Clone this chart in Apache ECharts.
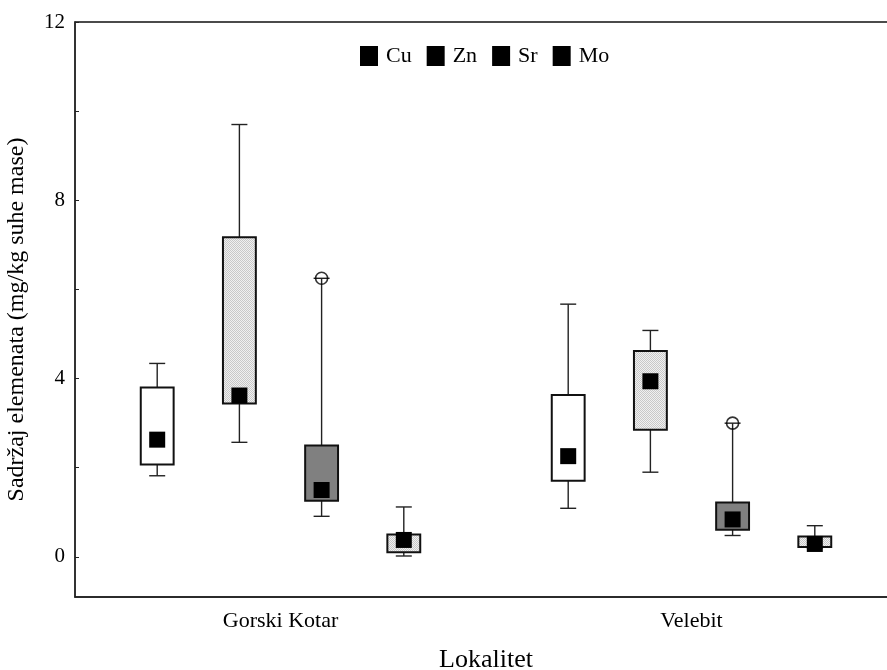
<!DOCTYPE html>
<html>
<head>
<meta charset="utf-8">
<script src="https://cdn.jsdelivr.net/npm/echarts@6/dist/echarts.min.js"></script>
<style>
  html, body { margin: 0; padding: 0; background: #fff; }
  #chart { width: 887px; height: 670px; }
</style>
</head>
<body>
<div id="chart"></div>
<script>
// lokaliteti i elementi
var categories = ['Gorski Kotar', 'Velebit'];
var elements = ['Cu', 'Zn', 'Sr', 'Mo'];

// [min, Q1, median, Q3, max] po lokalitetu
var cuStats = [[1.82, 2.07, 2.63, 3.80, 4.34], [1.09, 1.71, 2.26, 3.63, 5.67]];
var znStats = [[2.57, 3.44, 3.62, 7.17, 9.70], [1.90, 2.85, 3.94, 4.62, 5.08]];
var srStats = [[0.91, 1.26, 1.50, 2.50, 6.25], [0.48, 0.61, 0.84, 1.22, 3.00]];
var moStats = [[0.02, 0.105, 0.38, 0.50, 1.12], [0.20, 0.22, 0.29, 0.46, 0.70]];

// outlieri (samo Sr)
var srOutliers = [6.25, 3.00];

// oznake na y osi
var yLabels = [0, 4, 8, 12];

var allStats = [cuStats, znStats, srStats, moStats];

// sitni tockasti uzorak za svijetlo sive kutije
function makePattern() {
  var c = document.createElement('canvas');
  c.width = 2; c.height = 2;
  var ctx = c.getContext('2d');
  ctx.fillStyle = '#f0f0f0';
  ctx.fillRect(0, 0, 2, 2);
  ctx.fillStyle = '#c8c8c8';
  ctx.fillRect(0, 0, 1, 1);
  ctx.fillRect(1, 1, 1, 1);
  return { image: c, repeat: 'repeat' };
}
var dotted = makePattern();
var fills = ['#ffffff', dotted, '#808080', dotted];

// pozicija kutije na skrivenoj osi: svaka grupa ima 4 mjesta + razmak
function slot(loc, el) {
  return loc * 5 + el + 1;
}

function renderBox(params, api) {
  var x = api.value(0);
  var w = api.size([1, 0])[0] * 0.4;
  var cap = 16;
  var sq = 16;
  var pMin = api.coord([x, api.value(1)]);
  var pQ1 = api.coord([x, api.value(2)]);
  var pMed = api.coord([x, api.value(3)]);
  var pQ3 = api.coord([x, api.value(4)]);
  var pMax = api.coord([x, api.value(5)]);
  var cx = pMin[0];
  var line = { stroke: '#222', lineWidth: 1.4 };
  return {
    type: 'group',
    children: [
      { type: 'line', shape: { x1: cx, y1: pMin[1], x2: cx, y2: pQ1[1] }, style: line },
      { type: 'line', shape: { x1: cx, y1: pQ3[1], x2: cx, y2: pMax[1] }, style: line },
      { type: 'line', shape: { x1: cx - cap / 2, y1: pMin[1], x2: cx + cap / 2, y2: pMin[1] }, style: line },
      { type: 'line', shape: { x1: cx - cap / 2, y1: pMax[1], x2: cx + cap / 2, y2: pMax[1] }, style: line },
      {
        type: 'rect',
        shape: { x: cx - w / 2, y: pQ3[1], width: w, height: pQ1[1] - pQ3[1] },
        style: { fill: fills[params.seriesIndex], stroke: '#111', lineWidth: 2 }
      },
      {
        type: 'rect',
        shape: { x: cx - sq / 2, y: pMed[1] - sq / 2, width: sq, height: sq },
        style: { fill: '#000' }
      }
    ]
  };
}

var font = 'Liberation Serif';

var series = elements.map(function (name, ei) {
  return {
    name: name,
    type: 'custom',
    xAxisIndex: 1,
    yAxisIndex: 0,
    renderItem: renderBox,
    itemStyle: { color: '#000' },
    encode: { x: 0, y: [1, 2, 3, 4, 5] },
    data: allStats[ei].map(function (s, li) {
      return [slot(li, ei)].concat(s);
    }),
    z: 3
  };
});

series.push({
  name: 'outliers',
  type: 'scatter',
  xAxisIndex: 1,
  yAxisIndex: 0,
  symbol: 'circle',
  symbolSize: 12,
  itemStyle: { color: 'rgba(0,0,0,0)', borderColor: '#000', borderWidth: 1.6 },
  data: srOutliers.map(function (v, li) {
    return [slot(li, 2), v];
  }),
  z: 4
});

var chart = echarts.init(document.getElementById('chart'));
chart.setOption({
  animation: false,
  backgroundColor: '#fff',
  legend: {
    data: elements,
    left: 355,
    top: 40,
    icon: 'rect',
    itemWidth: 18,
    itemHeight: 20,
    itemGap: 15,
    textStyle: { fontFamily: font, fontSize: 22, color: '#000', padding: [0, 0, 0, 3] }
  },
  grid: {
    left: 75,
    right: -10,
    top: 22,
    bottom: 73,
    show: true,
    borderColor: '#111',
    borderWidth: 1.3,
    outerBoundsMode: 'none'
  },
  xAxis: [{
    type: 'category',
    data: categories,
    boundaryGap: true,
    name: 'Lokalitet',
    nameLocation: 'middle',
    nameGap: 50,
    nameTextStyle: { fontFamily: font, fontSize: 26, color: '#000' },
    axisLine: { onZero: false, lineStyle: { color: '#222', width: 1.5 } },
    axisTick: { inside: true, alignWithLabel: true, length: 5, lineStyle: { color: '#222' } },
    axisLabel: { fontFamily: font, fontSize: 22, color: '#000', margin: 13 },
    splitLine: { show: false }
  }, {
    type: 'value',
    min: 0,
    max: 10,
    show: false,
    splitLine: { show: false }
  }],
  yAxis: {
    type: 'value',
    min: -0.9,
    max: 12,
    splitNumber: 6,
    name: 'Sadržaj elemenata (mg/kg suhe mase)',
    nameLocation: 'middle',
    nameGap: 46,
    nameTextStyle: { fontFamily: font, fontSize: 24, color: '#000', padding: [0, 20, 0, 0] },
    axisLine: { show: true, onZero: false, lineStyle: { color: '#222', width: 1.5 } },
    axisTick: { show: true, inside: true, length: 4, lineStyle: { color: '#222' } },
    axisLabel: {
      fontFamily: font,
      fontSize: 21,
      color: '#000',
      margin: 10,
      showMinLabel: false,
      formatter: function (v) {
        return yLabels.indexOf(v) >= 0 ? String(v) : '';
      }
    },
    splitLine: { show: false }
  },
  series: series
});
</script>
</body>
</html>
